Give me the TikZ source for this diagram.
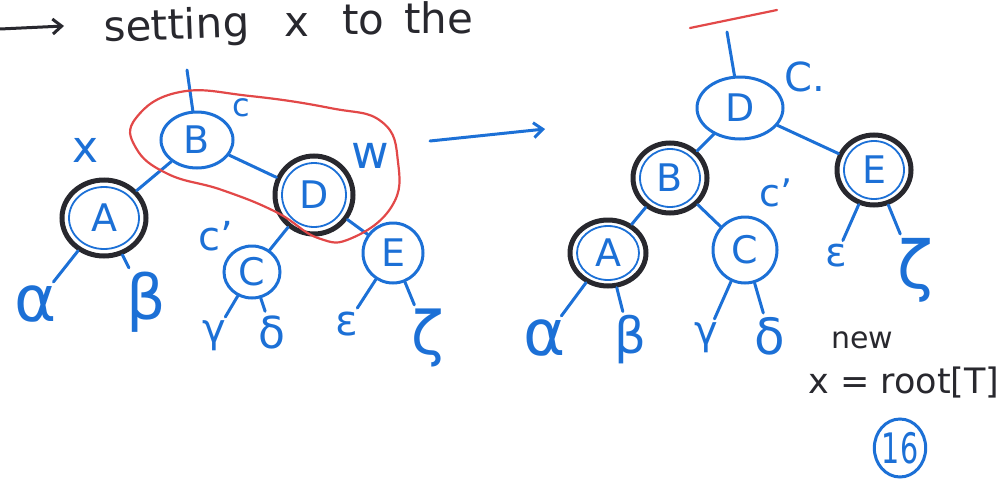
\documentclass[tikz,border=0pt]{standalone}
\usepackage{fontspec}
\setmainfont{DejaVu Sans}
\usetikzlibrary{shapes.geometric,arrows.meta}
\definecolor{pen}{RGB}{28,112,214}
\definecolor{ink}{RGB}{40,40,46}
\definecolor{redpen}{RGB}{226,72,72}
\newcommand{\fs}[1]{\fontsize{#1}{#1}\selectfont}
\begin{document}
\begin{tikzpicture}[x=1pt,y=-1pt,
  keynode/.style={ellipse, draw=pen, line width=3pt, text=pen, inner sep=0pt, font=\fs{38}},
  marked/.style={keynode, draw=ink, line width=5pt},
  lbl/.style={text=pen, inner sep=1pt, font=\fs{40}},
  sublbl/.style={text=pen, inner sep=2pt, font=\fs{56}},
  edge/.style={draw=pen, line width=3pt, line cap=round},
  trace/.style={draw=pen, line width=1.8pt},
  note/.style={text=ink, inner sep=0pt, font=\fs{42}}]
\useasboundingbox (0,0) rectangle (998,479);

% heading
\coordinate (hA) at (0,29);
\coordinate (hB) at (64,26);
\draw[draw=ink, line width=3pt, -{Straight Barb[length=9pt,width=15pt]}] (hA) -- (hB);
\node[note, anchor=base west, rotate=2] (hw1) at (104,42) {setting};
\node[note, anchor=base west] (hw2) at (284,36) {x};
\node[note, anchor=base west] (hw3) at (342,34) {to};
\node[note, anchor=base west] (hw4) at (404,33) {the};

% ---------- tree before the rotation ----------
\node[keynode, minimum width=72, minimum height=56] (lB) at (197,140) {B};
\node[marked, minimum width=84, minimum height=76] (lA) at (104,218) {A};
\node[marked, minimum width=78, minimum height=78] (lD) at (314,195) {D};
\node[keynode, minimum width=56, minimum height=52] (lC) at (252,272) {C};
\node[keynode, minimum width=60, minimum height=60] (lE) at (393,253) {E};
\coordinate (lTop) at (187,70);
% blue outlines showing through the black rings
\draw[trace] (lA.center) ellipse (35 and 31);
\draw[trace] (lD.center) ellipse (32 and 32);

\node[lbl, font=\fs{44}] (lx) at (86,150) {x};
\node[lbl, font=\fs{32}] (lc) at (241,108) {c};
\node[lbl, font=\fs{46}] (lw) at (370,156) {w};
\node[lbl] (lcp) at (216,236) {c'};

\node[sublbl, font=\fs{64}] (lal) at (36,304) {α};
\node[sublbl, font=\fs{62}] (lbe) at (146,302) {β};
\node[sublbl, font=\fs{40}] (lga) at (214,336) {γ};
\node[sublbl, font=\fs{44}] (lde) at (272,332) {δ};
\node[sublbl, font=\fs{42}] (lep) at (347,324) {ε};
\node[sublbl, font=\fs{60}] (lze) at (428,338) {ζ};

\draw[edge] (lB) -- (lTop);
\draw[edge] (lB) -- (lA);
\draw[edge] (lB) -- (lD);
\draw[edge] (lD) -- (lC);
\draw[edge] (lD) -- (lE);
\draw[edge, shorten >=2pt] (lA) -- (lal);
\draw[edge, shorten >=2pt] (lA) -- (lbe);
\draw[edge, shorten >=2pt] (lC) -- (lga);
\draw[edge, shorten >=2pt] (lC) -- (lde);
\draw[edge, shorten >=2pt] (lE) -- (lep);
\draw[edge, shorten >=2pt] (lE) -- (lze);

% red loop around the rotated pair
\draw[redpen, line width=2.2pt] plot[smooth cycle, tension=0.75] coordinates {
  (136,118) (180,92) (250,96) (330,108) (382,122) (398,162) (392,206)
  (352,238) (318,238) (276,212) (222,190) (168,174) (136,148)};

% arrow between the two trees
\coordinate (mA) at (430,141);
\coordinate (mB) at (545,129);
\draw[edge, -{Straight Barb[length=9pt,width=15pt]}] (mA) -- (mB);

% ---------- tree after the rotation ----------
\node[keynode, minimum width=86, minimum height=62] (rD) at (740,108) {D};
\node[marked, minimum width=74, minimum height=70] (rB) at (670,178) {B};
\node[marked, minimum width=74, minimum height=70] (rE) at (874,170) {E};
\node[marked, minimum width=76, minimum height=66] (rA) at (608,253) {A};
\node[keynode, minimum width=64, minimum height=66] (rC) at (745,250) {C};
\draw[trace] (rB.center) ellipse (30 and 29);
\draw[trace] (rE.center) ellipse (30 and 29);
\draw[trace] (rA.center) ellipse (31 and 27);
\coordinate (rTop) at (727,32);
\coordinate (rL) at (690,28);
\coordinate (rR) at (777,10);
\draw[redpen, line width=2.2pt, line cap=round] (rL) -- (rR);

\node[lbl] (rcd) at (805,77) {C.};
\node[lbl, font=\fs{38}] (rcp) at (776,193) {c'};

\node[sublbl, font=\fs{64}] (ral) at (545,338) {α};
\node[sublbl, font=\fs{50}] (rbe) at (630,340) {β};
\node[sublbl, font=\fs{40}] (rga) at (706,338) {γ};
\node[sublbl, font=\fs{50}] (rde) at (770,336) {δ};
\node[sublbl, font=\fs{40}] (rep) at (836,256) {ε};
\node[sublbl, font=\fs{66}] (rze) at (915,270) {ζ};

\draw[edge] (rD) -- (rTop);
\draw[edge] (rD) -- (rB);
\draw[edge] (rD) -- (rE);
\draw[edge] (rB) -- (rA);
\draw[edge] (rB) -- (rC);
\draw[edge, shorten >=2pt] (rA) -- (ral);
\draw[edge, shorten >=2pt] (rA) -- (rbe);
\draw[edge, shorten >=2pt] (rC) -- (rga);
\draw[edge, shorten >=2pt] (rC) -- (rde);
\draw[edge, shorten >=2pt] (rE) -- (rep);
\draw[edge, shorten >=2pt] (rE) -- (rze);

% note and page number
\node[note, font=\fs{30}] (nnew) at (862,340) {new};
\node[note, font=\fs{35}] (nroot) at (904,383) {x = root[T]};
\node[ellipse, draw=pen, line width=3pt, text=pen, inner sep=0pt,
  minimum width=46, minimum height=58, font=\fs{42}] (npg) at (900,448) {\scalebox{0.68}[1]{16}};
\end{tikzpicture}
\end{document}
